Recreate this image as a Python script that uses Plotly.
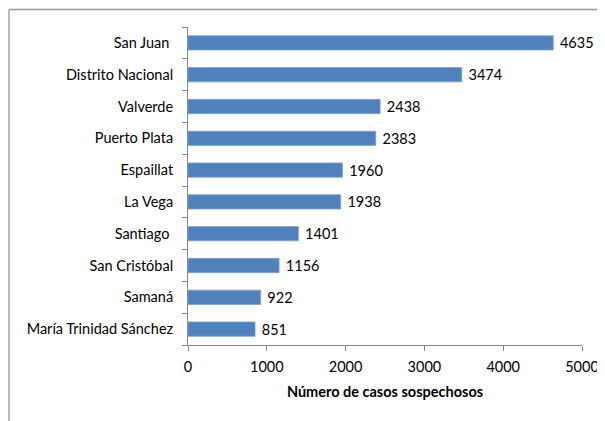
import plotly.graph_objects as go

provinces = ["San Juan", "Distrito Nacional", "Valverde", "Puerto Plata", "Espaillat",
             "La Vega", "Santiago", "San Cristóbal", "Samaná", "María Trinidad Sánchez"]
province_labels = ["San Juan\u00a0", "Distrito Nacional", "Valverde", "Puerto Plata", "Espaillat",
                   "La Vega", "Santiago\u00a0", "San Cristóbal", "Samaná", "María Trinidad Sánchez"]
cases = [4635, 3474, 2438, 2383, 1960, 1938, 1401, 1156, 922, 851]
x_ticks = [0, 1000, 2000, 3000, 4000, 5000]
x_title = "Número de casos sospechosos"

FONT = "Lato, Open Sans, sans-serif"
AX = "#868686"

# the page body adds an 8px offset; margins below are in figure coordinates
L, T, PW, PH = 180, 19, 394, 318

fig = go.Figure(go.Bar(
    x=cases, y=provinces, orientation="h",
    marker=dict(color="#4F81BD", line=dict(color="#7FA4D2", width=0.8)),
    text=["\u00a0" + str(v) for v in cases], textposition="outside",
    constraintext="none",
    textfont=dict(family=FONT, size=14.5, color="#000"),
    cliponaxis=False,
))

fx = (1 - L) / PW
fy = 1 + (T - 1.5) / PH
fig.update_layout(
    width=605, height=421,
    margin=dict(l=L, r=605 - L - PW, t=T, b=421 - T - PH, autoexpand=False),
    paper_bgcolor="white", plot_bgcolor="white",
    bargap=0.55, showlegend=False,
    font=dict(family=FONT, size=14, color="#000"),
    xaxis=dict(range=[0, 5000], tickvals=x_ticks, ticktext=[str(t) for t in x_ticks],
               automargin=False,
               showgrid=False, zeroline=False, showline=True, linecolor=AX, linewidth=1,
               ticks="outside", ticklen=5, tickcolor=AX, ticklabelstandoff=4,
               tickfont=dict(family=FONT, size=14.5),
               title=dict(text="<b>" + x_title + "</b>", standoff=12,
                          font=dict(family=FONT, size=14.5))),
    yaxis=dict(autorange="reversed", automargin=False, showgrid=False, zeroline=False,
               showline=True, ticklabelstandoff=11,
               tickvals=provinces, ticktext=province_labels,
               linecolor=AX, linewidth=1, ticks="outside", ticklen=5, tickcolor=AX,
               tickson="boundaries", tickfont=dict(family=FONT, size=14.5)),
    shapes=[dict(type="line", xref="paper", yref="paper",
                 x0=fx, x1=fx, y0=fy, y1=-0.5,
                 line=dict(color="#a6a6a6", width=1.5)),
            dict(type="line", xref="paper", yref="paper",
                 x0=fx, x1=1.2, y0=fy, y1=fy,
                 line=dict(color="#999999", width=1.5))],
)

fig.write_html("out.html")
